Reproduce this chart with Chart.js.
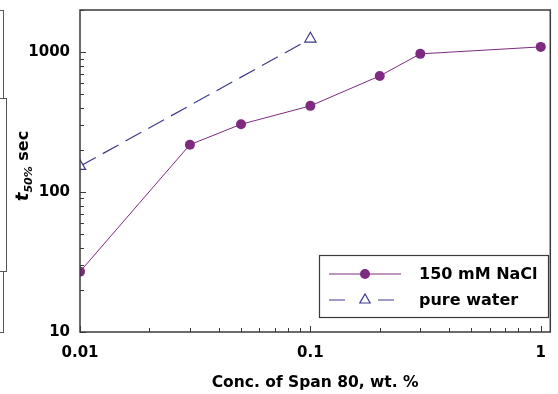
<!DOCTYPE html>
<html>
<head>
<meta charset="utf-8">
<script src="https://cdn.jsdelivr.net/npm/chart.js@4"></script>
<style>
  html, body { margin: 0; padding: 0; background: #fff; }
  #wrap { position: relative; width: 558px; height: 394px; }
  canvas { position: absolute; left: 0; top: 0; }
  .edge { position: absolute; border-color: #555; border-style: solid; border-width: 0; }
</style>
</head>
<body>
<div id="wrap">
  <canvas id="c" width="558" height="394"></canvas>
  <div class="edge" style="left:0;top:10px;width:3px;height:88px;border-top-width:1.5px;border-right-width:1.5px;"></div>
  <div class="edge" style="left:0;top:98px;width:6px;height:172px;border-top-width:1.5px;border-right-width:1.5px;border-bottom-width:1.5px;"></div>
  <div class="edge" style="left:0;top:271px;width:3px;height:61px;border-right-width:1.5px;border-bottom-width:1.5px;"></div>
</div>
<script>
// ---- data ----
const naclConc = [0.01, 0.03, 0.05, 0.1, 0.2, 0.3, 1];
const naclT50 = [27, 218, 305, 413, 676, 972, 1090];
const waterConc = [0.01, 0.1];
const waterT50 = [153, 1245];
const seriesLabels = ['150 mM NaCl', 'pure water'];
const xTickLabels = [0.01, 0.1, 1];
const yTickLabels = [10, 100, 1000];
const xTitle = 'Conc. of Span 80, wt. %';
const yTitleMain = 't';
const yTitleSub = '50%';
const yTitleRest = ' sec';

const NACL_COLOR = '#7d2a80';
const WATER_COLOR = '#3b3b8e';
const FRAME = '#3a3a3a';
const FONT = 'DejaVu Sans';

function toPts(xs, ys) { return xs.map((x, i) => ({ x: x, y: ys[i] })); }

const framePlugin = {
  id: 'frameTicks',
  afterDraw(chart) {
    const ctx = chart.ctx;
    const a = chart.chartArea;
    const xs = chart.scales.x, ys = chart.scales.y;
    ctx.save();
    ctx.strokeStyle = FRAME;
    ctx.lineWidth = 1.5;
    ctx.strokeRect(a.left, a.top, a.right - a.left, a.bottom - a.top);
    ctx.lineWidth = 1;
    ctx.beginPath();
    // y ticks (inward from left)
    for (let e = 1; e <= 3; e++) {
      for (let m = 1; m <= 9; m++) {
        const v = m * Math.pow(10, e);
        if (v < ys.min || v > ys.max) continue;
        const py = Math.round(ys.getPixelForValue(v)) + 0.5;
        const len = m === 1 ? 6 : 4;
        ctx.moveTo(a.left, py); ctx.lineTo(a.left + len, py);
      }
    }
    // x ticks (inward from bottom)
    for (let e = -2; e <= 0; e++) {
      for (let m = 1; m <= 9; m++) {
        const v = m * Math.pow(10, e);
        if (v < xs.min || v > xs.max) continue;
        const px = Math.round(xs.getPixelForValue(v)) + 0.5;
        const len = m === 1 ? 6 : 4;
        ctx.moveTo(px, a.bottom); ctx.lineTo(px, a.bottom - len);
      }
    }
    ctx.stroke();

    // y title with subscript
    ctx.save();
    ctx.translate(22, 166);
    ctx.rotate(-Math.PI / 2);
    ctx.fillStyle = '#000';
    ctx.textBaseline = 'alphabetic';
    const f1 = 'italic bold 18px ' + FONT;
    const f2 = 'italic bold 11px ' + FONT;
    const f3 = 'bold 16px ' + FONT;
    ctx.font = f1; const w1 = ctx.measureText(yTitleMain).width;
    ctx.font = f2; const w2 = ctx.measureText(yTitleSub).width;
    ctx.font = f3; const w3 = ctx.measureText(yTitleRest).width;
    let x0 = -(w1 + w2 + w3) / 2;
    const base = 6;
    ctx.font = f1; ctx.fillText(yTitleMain, x0, base); x0 += w1;
    ctx.font = f2; ctx.fillText(yTitleSub, x0, base + 4); x0 += w2;
    ctx.font = f3; ctx.fillText(yTitleRest, x0, base);
    ctx.restore();

    // legend
    const lx = 319.5, ly = 255.5, lw = 229, lh = 62;
    ctx.fillStyle = '#fff';
    ctx.fillRect(lx, ly, lw, lh);
    ctx.strokeStyle = FRAME;
    ctx.lineWidth = 1.2;
    ctx.strokeRect(lx, ly, lw, lh);
    const rows = [274, 300];
    const ds = chart.data.datasets;
    // row 1
    ctx.strokeStyle = ds[0].borderColor; ctx.lineWidth = 1;
    ctx.beginPath(); ctx.moveTo(329, rows[0]); ctx.lineTo(401, rows[0]); ctx.stroke();
    ctx.fillStyle = ds[0].pointBackgroundColor;
    ctx.beginPath(); ctx.arc(365, rows[0], 5, 0, Math.PI * 2); ctx.fill();
    // row 2
    ctx.strokeStyle = ds[1].borderColor; ctx.lineWidth = 1.2;
    ctx.beginPath();
    ctx.moveTo(329, rows[1]); ctx.lineTo(345, rows[1]);
    ctx.moveTo(378, rows[1]); ctx.lineTo(394, rows[1]);
    ctx.stroke();
    ctx.beginPath();
    const r = 6;
    ctx.moveTo(365, rows[1] - r);
    ctx.lineTo(365 + r * Math.sin(2 * Math.PI / 3), rows[1] - r * Math.cos(2 * Math.PI / 3));
    ctx.lineTo(365 + r * Math.sin(4 * Math.PI / 3), rows[1] - r * Math.cos(4 * Math.PI / 3));
    ctx.closePath();
    ctx.fillStyle = '#fff'; ctx.fill(); ctx.stroke();
    ctx.fillStyle = '#000';
    ctx.font = 'bold 16px ' + FONT;
    ctx.textBaseline = 'middle';
    ctx.fillText(ds[0].label, 419, rows[0] + 1);
    ctx.fillText(ds[1].label, 419, rows[1] + 1);
    ctx.restore();
  }
};

new Chart(document.getElementById('c'), {
  type: 'line',
  data: {
    datasets: [
      {
        label: seriesLabels[0],
        data: toPts(naclConc, naclT50),
        borderColor: NACL_COLOR,
        backgroundColor: NACL_COLOR,
        pointBackgroundColor: NACL_COLOR,
        pointBorderColor: NACL_COLOR,
        borderWidth: 1,
        pointRadius: 5,
        pointBorderWidth: 0,
        tension: 0
      },
      {
        label: seriesLabels[1],
        data: toPts(waterConc, waterT50),
        borderColor: WATER_COLOR,
        backgroundColor: '#fff',
        pointBackgroundColor: '#fff',
        pointBorderColor: WATER_COLOR,
        borderWidth: 1.2,
        borderDash: [18, 8],
        pointStyle: 'triangle',
        pointRadius: 6.5,
        pointBorderWidth: 1.2,
        tension: 0
      }
    ]
  },
  options: {
    responsive: false,
    animation: false,
    devicePixelRatio: 1,
    layout: { padding: { left: 0, right: 6, top: 10, bottom: 0 } },
    plugins: { legend: { display: false }, tooltip: { enabled: false } },
    scales: {
      x: {
        type: 'logarithmic',
        min: 0.01,
        max: 1.1,
        grid: { display: false, drawTicks: false },
        border: { display: false },
        afterBuildTicks(scale) { scale.ticks = xTickLabels.map(v => ({ value: v })); },
        afterFit(scale) { scale.height = 62; scale.paddingLeft = 0; scale.paddingRight = 0; },
        ticks: {
          padding: 12,
          color: '#000',
          font: { family: FONT, weight: 'bold', size: 15 },
          maxRotation: 0,
          callback: (v) => String(v)
        },
        title: {
          display: true,
          text: xTitle,
          color: '#000',
          font: { family: FONT, weight: 'bold', size: 15.5 },
          padding: { top: 0, bottom: 2 }
        }
      },
      y: {
        type: 'logarithmic',
        min: 10,
        max: 2000,
        grid: { display: false, drawTicks: false },
        border: { display: false },
        afterBuildTicks(scale) { scale.ticks = yTickLabels.map(v => ({ value: v })); },
        afterFit(scale) { scale.width = 80; scale.paddingTop = 0; scale.paddingBottom = 0; },
        ticks: {
          padding: 10,
          color: '#000',
          font: { family: FONT, weight: 'bold', size: 15 },
          callback: (v) => String(v)
        }
      }
    }
  },
  plugins: [framePlugin]
});
</script>
</body>
</html>
